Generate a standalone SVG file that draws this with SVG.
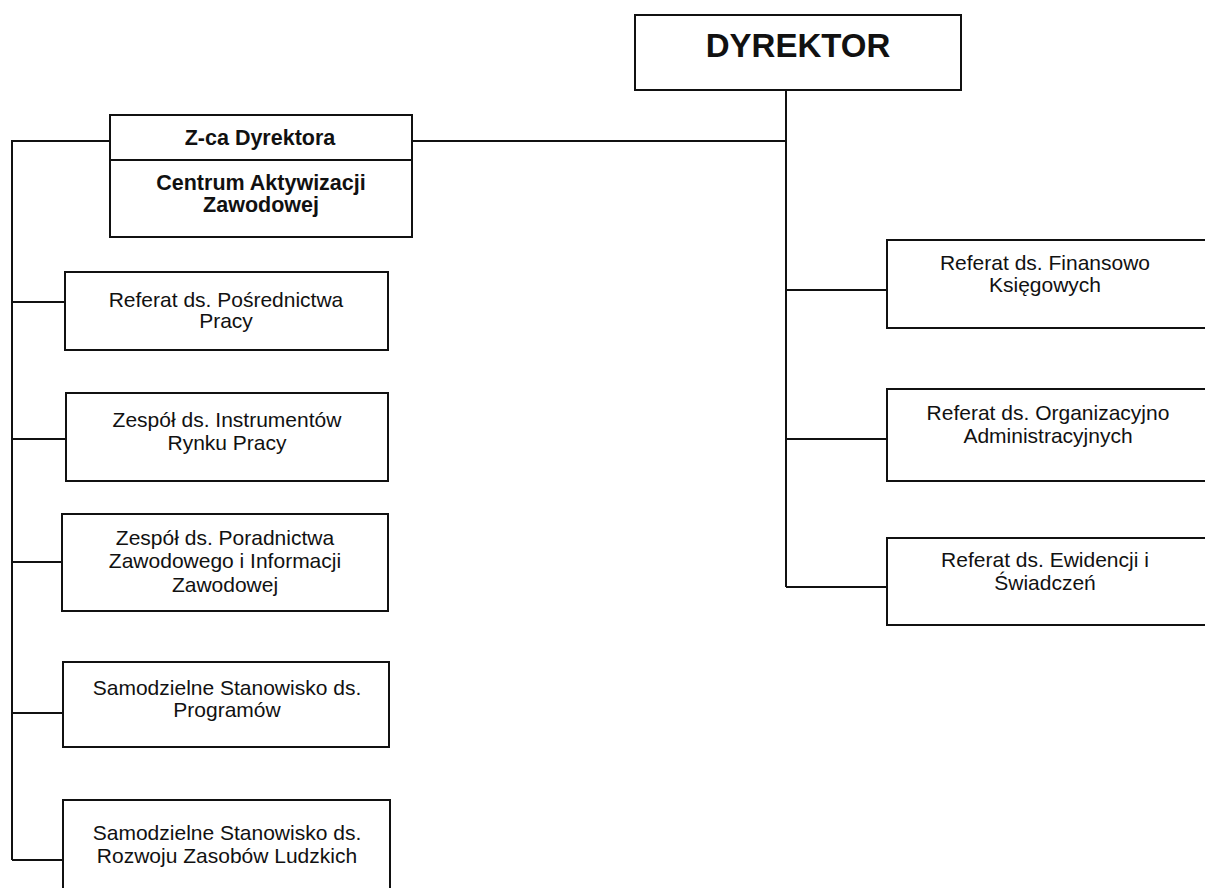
<svg xmlns="http://www.w3.org/2000/svg" width="1205" height="888" viewBox="0 0 1205 888">
<style>
.box{fill:#fff;stroke:#111;stroke-width:2}
.ln{fill:none;stroke:#111;stroke-width:2}
.t{font-family:"Liberation Sans",Arial,sans-serif;font-size:21px;fill:#111;text-anchor:middle}
.b{font-weight:bold;font-size:21.5px}
.big{font-size:33px;font-weight:bold}
</style>
<rect width="1205" height="888" fill="#fff"/>
<g id="connectors">
<path class="ln" d="M786 90V587M412 141H786M786 290H887M786 439H887M786 587H887"/>
<path class="ln" d="M110 141H12V860M12 302H65M12 439H66M12 562H62M12 713H63M12 860H63"/>
</g>
<g id="dyrektor">
<rect class="box" x="635" y="15" width="326" height="75"/>
<text class="t big" x="798" y="57">DYREKTOR</text>
</g>
<g id="zca">
<rect class="box" x="110" y="115" width="302" height="122"/>
<line class="ln" x1="110" y1="160" x2="412" y2="160"/>
<text class="t b" x="260" y="145">Z-ca Dyrektora</text>
<text class="t b" x="261" y="190">Centrum Aktywizacji</text>
<text class="t b" x="261" y="212">Zawodowej</text>
</g>
<g id="posrednictwa">
<rect class="box" x="65" y="272" width="323" height="78"/>
<text class="t" x="226" y="307">Referat ds. Pośrednictwa</text>
<text class="t" x="226" y="328">Pracy</text>
</g>
<g id="instrumentow">
<rect class="box" x="66" y="393" width="322" height="88"/>
<text class="t" x="227" y="427">Zespół ds. Instrumentów</text>
<text class="t" x="227" y="450">Rynku Pracy</text>
</g>
<g id="poradnictwa">
<rect class="box" x="62" y="514" width="326" height="97"/>
<text class="t" x="225" y="545">Zespół ds. Poradnictwa</text>
<text class="t" x="225" y="568">Zawodowego i Informacji</text>
<text class="t" x="225" y="592">Zawodowej</text>
</g>
<g id="programow">
<rect class="box" x="63" y="662" width="326" height="85"/>
<text class="t" x="227" y="695">Samodzielne Stanowisko ds.</text>
<text class="t" x="227" y="717">Programów</text>
</g>
<g id="rozwoju">
<rect class="box" x="63" y="800" width="327" height="100"/>
<text class="t" x="227" y="840">Samodzielne Stanowisko ds.</text>
<text class="t" x="227" y="863">Rozwoju Zasobów Ludzkich</text>
</g>
<g id="finansowo">
<rect class="box" x="887" y="240" width="330" height="88"/>
<text class="t" x="1045" y="270">Referat ds. Finansowo</text>
<text class="t" x="1045" y="292">Księgowych</text>
</g>
<g id="organizacyjno">
<rect class="box" x="887" y="389" width="330" height="92"/>
<text class="t" x="1048" y="420">Referat ds. Organizacyjno</text>
<text class="t" x="1048" y="443">Administracyjnych</text>
</g>
<g id="ewidencji">
<rect class="box" x="887" y="538" width="330" height="87"/>
<text class="t" x="1045" y="567">Referat ds. Ewidencji i</text>
<text class="t" x="1045" y="590">Świadczeń</text>
</g>
</svg>
